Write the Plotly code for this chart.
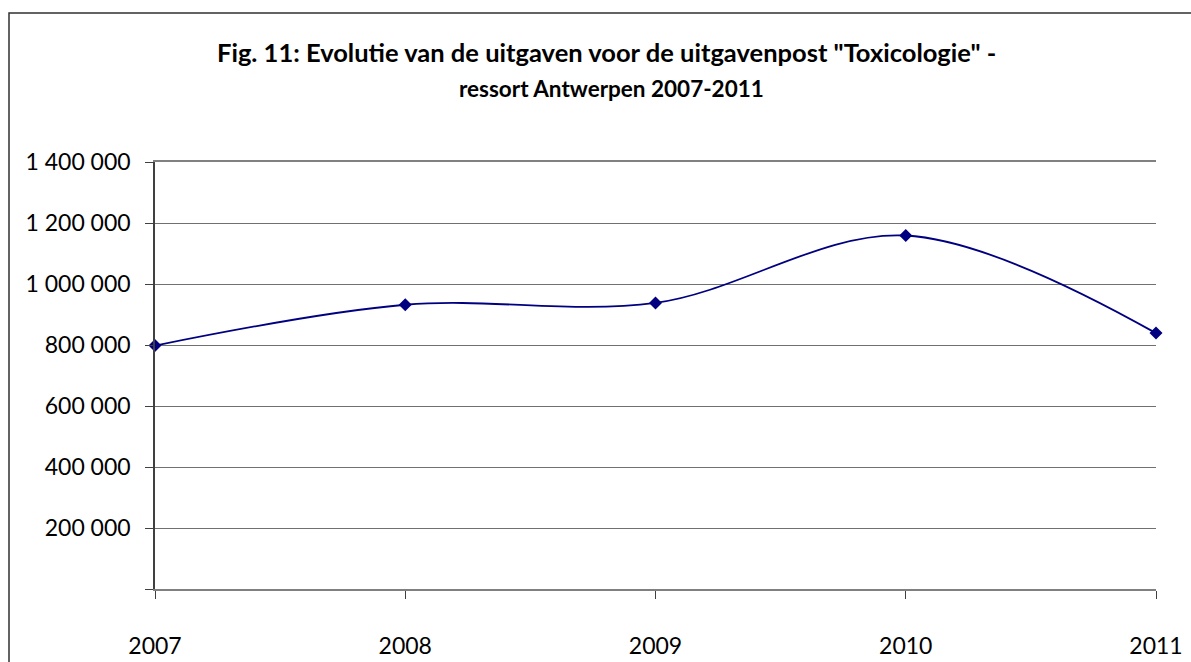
"""Fig. 11: uitgaven Toxicologie - ressort Antwerpen 2007-2011."""

import plotly.graph_objects as go

# Data
jaren = [2007, 2008, 2009, 2010, 2011]
uitgaven = [798000, 932000, 938000, 1159000, 839000]

y_ticks = [0, 200000, 400000, 600000, 800000, 1000000, 1200000, 1400000]
y_labels = ["" if v == 0 else f"{v:,}".replace(",", " ") for v in y_ticks]

FONT = "Lato, 'Open Sans', sans-serif"
NAVY = "#000080"

# Plot area in pixels (from reference)
W, H = 1191, 662
L, R, T, B = 155, 1156, 162, 589


def px_x(px):
    return (px - L) / (R - L)


def px_y(py):
    return (B - py) / (B - T)


fig = go.Figure(
    go.Scatter(
        x=jaren,
        y=uitgaven,
        mode="lines+markers",
        line=dict(color=NAVY, width=1.8, shape="spline", smoothing=1.0),
        marker=dict(symbol="diamond", size=10, color=NAVY),
        showlegend=False,
        cliponaxis=False,
    )
)

fig.update_layout(
    width=W,
    height=H,
    margin=dict(l=L, r=W - R, t=T, b=H - B, pad=0),
    paper_bgcolor="white",
    plot_bgcolor="white",
    font=dict(family=FONT, size=23, color="black"),
    xaxis=dict(
        range=[2007, 2011],
        tickvals=jaren,
        ticktext=[str(j) for j in jaren],
        showgrid=False,
        zeroline=False,
        showline=True,
        linecolor="#808080",
        linewidth=1.5,
        mirror=True,
        ticks="outside",
        ticklen=8,
        tickcolor="#404040",
        ticklabelstandoff=28,
        automargin=False,
    ),
    yaxis=dict(
        range=[0, 1400000],
        tickvals=y_ticks,
        ticktext=y_labels,
        showgrid=True,
        gridcolor="#707070",
        gridwidth=1.2,
        zeroline=False,
        showline=True,
        linecolor="#404040",
        linewidth=1.5,
        ticks="outside",
        ticklen=8,
        tickcolor="#404040",
        ticklabelstandoff=10,
        automargin=False,
    ),
)

# Titel in twee regels
fig.add_annotation(
    text='<b>Fig. 11: Evolutie van de uitgaven voor de uitgavenpost "Toxicologie" -</b>',
    xref="paper", yref="paper", x=px_x(606), y=px_y(52),
    xanchor="center", yanchor="middle", showarrow=False,
    font=dict(family=FONT, size=25.5),
)
fig.add_annotation(
    text="<b>ressort Antwerpen 2007-2011</b>",
    xref="paper", yref="paper", x=px_x(611), y=px_y(88),
    xanchor="center", yanchor="middle", showarrow=False,
    font=dict(family=FONT, size=22.5),
)

# Kaderrand van de grafiek
fig.add_shape(
    type="rect", xref="paper", yref="paper",
    x0=px_x(9), y0=px_y(700), x1=px_x(1230), y1=px_y(13),
    line=dict(color="#303030", width=1.5), layer="below",
)

# body-marge weg zodat de figuur op (0, 0) begint
fig.write_html(
    "out.html",
    config={"displayModeBar": False},
    post_script="document.body.style.margin='0';",
)
